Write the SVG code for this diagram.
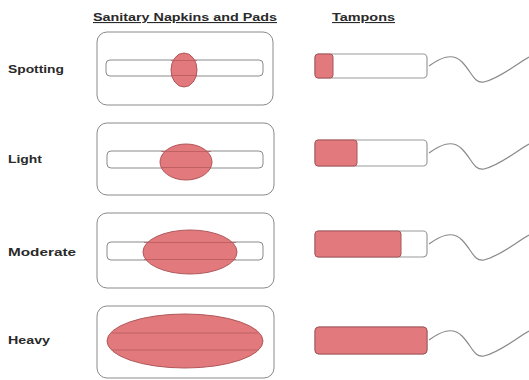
<svg xmlns="http://www.w3.org/2000/svg" width="529" height="380" viewBox="0 0 529 380">
<style>
.lbl{font-family:"Liberation Sans",Arial,sans-serif;font-weight:bold;font-size:11px;fill:#2a2a2a}
.hd{font-family:"Liberation Sans",Arial,sans-serif;font-weight:bold;font-size:11px;fill:#2a2a2a;text-decoration:underline}
.box{fill:#fff;stroke:#8a8a8a;stroke-width:1}
.strip{fill:#fff;stroke:#8a8a8a;stroke-width:1}
.stripline{fill:none;stroke:#b65a5c;stroke-width:1;opacity:0.8}
.blot{fill:#e27a7d;stroke:#b0575a;stroke-width:1}
.tamp{fill:#fff;stroke:#9a9a9a;stroke-width:1.2}
.tred{fill:#e27a7d;stroke:#a85458;stroke-width:1}
.str{fill:none;stroke:#8a8a8a;stroke-width:1.2}
</style>
<rect width="529" height="380" fill="#fff"/>
<text class="hd" x="93" y="21" textLength="184" lengthAdjust="spacingAndGlyphs">Sanitary Napkins and Pads</text>
<text class="hd" x="332" y="21" textLength="63" lengthAdjust="spacingAndGlyphs">Tampons</text>

<g id="spotting">
<text class="lbl" x="8" y="73" textLength="56" lengthAdjust="spacingAndGlyphs">Spotting</text>
<rect class="box" x="97" y="32" width="176" height="73" rx="10"/>
<rect class="strip" x="106" y="60" width="157" height="16" rx="4"/>
<ellipse class="blot" cx="184" cy="70" rx="13" ry="17"/>
<line class="stripline" x1="171" y1="60.5" x2="197" y2="60.5"/>
<line class="stripline" x1="171" y1="75.5" x2="197" y2="75.5"/>
<rect class="tamp" x="315" y="54" width="112" height="24" rx="4"/>
<rect class="tred" x="315" y="54" width="18" height="24" rx="3"/>
</g>

<g id="light">
<text class="lbl" x="8" y="163" textLength="34" lengthAdjust="spacingAndGlyphs">Light</text>
<rect class="box" x="97" y="123" width="177" height="72" rx="10"/>
<rect class="strip" x="107" y="151" width="156" height="17" rx="4"/>
<ellipse class="blot" cx="186" cy="162" rx="26" ry="18"/>
<line class="stripline" x1="161" y1="151.5" x2="211" y2="151.5"/>
<line class="stripline" x1="161" y1="167.5" x2="211" y2="167.5"/>
<rect class="tamp" x="315" y="140" width="112" height="26" rx="4"/>
<rect class="tred" x="315" y="140" width="42" height="26" rx="3"/>
</g>

<g id="moderate">
<text class="lbl" x="8" y="256" textLength="68" lengthAdjust="spacingAndGlyphs">Moderate</text>
<rect class="box" x="97" y="213" width="177" height="75" rx="10"/>
<rect class="strip" x="107" y="242" width="156" height="18" rx="4"/>
<ellipse class="blot" cx="190" cy="252" rx="47" ry="22"/>
<line class="stripline" x1="144" y1="242.5" x2="236" y2="242.5"/>
<line class="stripline" x1="144" y1="259.5" x2="236" y2="259.5"/>
<rect class="tamp" x="315" y="231" width="112" height="26" rx="4"/>
<rect class="tred" x="315" y="231" width="86" height="26" rx="3"/>
</g>

<g id="heavy">
<text class="lbl" x="8" y="344" textLength="42" lengthAdjust="spacingAndGlyphs">Heavy</text>
<rect class="box" x="97" y="306" width="177" height="72" rx="10"/>
<ellipse class="blot" cx="185" cy="341" rx="78" ry="27"/>
<line class="stripline" x1="112" y1="333" x2="258" y2="333"/>
<line class="stripline" x1="112" y1="350" x2="258" y2="350"/>
<rect class="tamp" x="315" y="327" width="112" height="27" rx="4"/>
<rect class="tred" x="315" y="327" width="112" height="27" rx="4"/>
</g>

<g id="connectors">
<path class="str" d="M429,66 C440,58 452,52 462,62 C472,72 474,84 484,82 C500,78 515,65 529,57"/>
<path class="str" d="M429,153 C440,145 452,139 462,149 C472,159 474,171 484,169 C500,165 515,152 529,144"/>
<path class="str" d="M429,244 C440,236 452,230 462,240 C472,250 474,262 484,260 C500,256 515,243 529,235"/>
<path class="str" d="M429,340 C440,332 452,326 462,336 C472,346 474,358 484,356 C500,352 515,339 529,331"/>
</g>
</svg>
